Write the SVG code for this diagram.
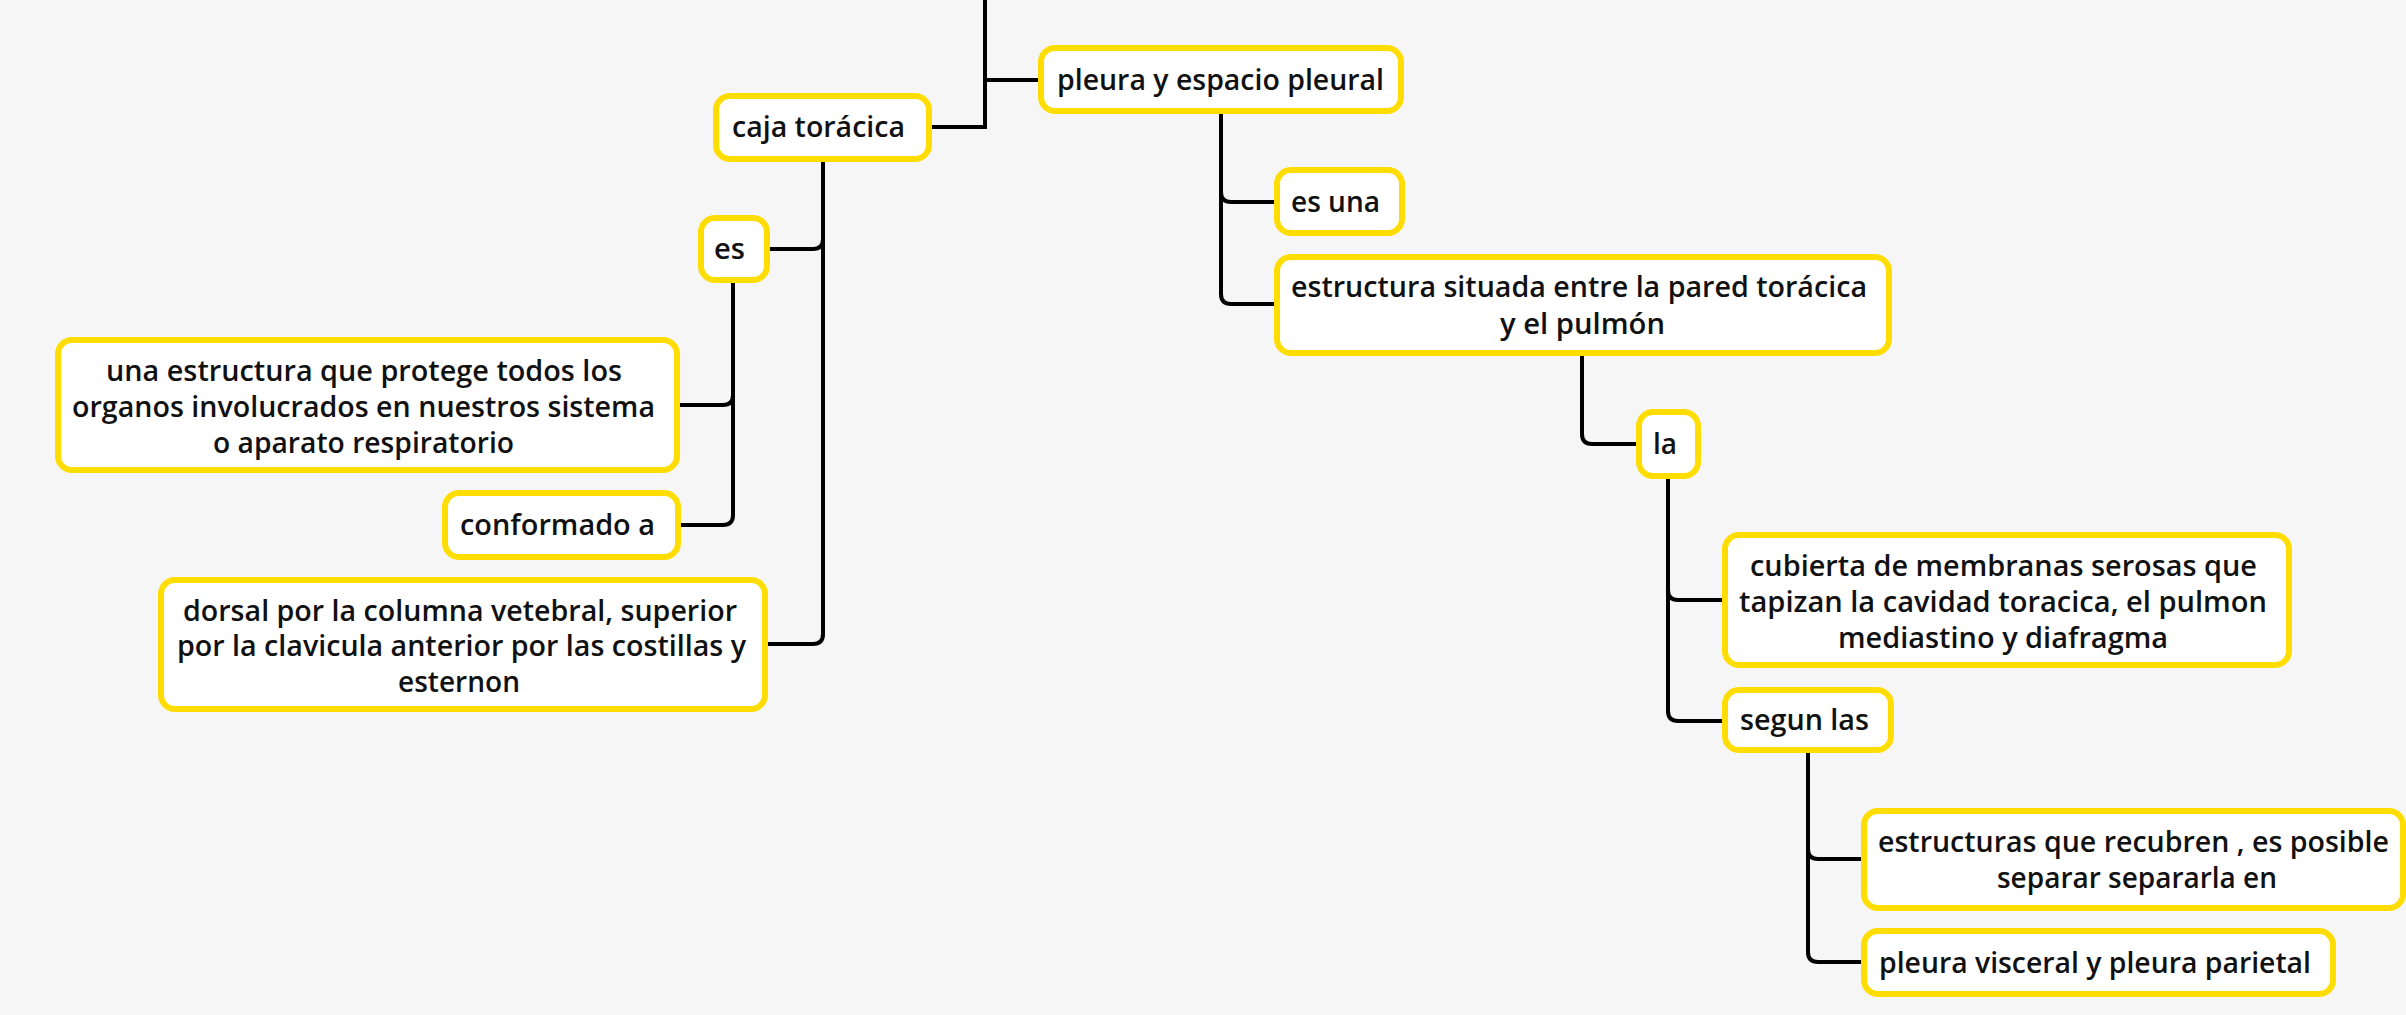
<svg xmlns="http://www.w3.org/2000/svg" width="2406" height="1015" viewBox="0 0 2406 1015">
<style>
.bg{fill:#F6F6F6}
.node rect{fill:#FFFFFF;stroke:#FFDD00;stroke-width:6}
.node text{font-family:"Open Sans","Liberation Sans",sans-serif;font-weight:600;font-size:28px;fill:#111111}
.conn path{fill:none;stroke:#000000;stroke-width:4;stroke-linejoin:miter}
</style>
<rect class="bg" x="0" y="0" width="2406" height="1015"/>
<g id="connectors" class="conn">
<path d="M985,0 V127 H932"/>
<path d="M985,80 H1038"/>
<path d="M823,162 V239 Q823,249 813,249 H770"/>
<path d="M823,162 V634 Q823,644 813,644 H768"/>
<path d="M733,283 V395 Q733,405 723,405 H680"/>
<path d="M733,283 V515 Q733,525 723,525 H681"/>
<path d="M1221,114 V192 Q1221,202 1231,202 H1274"/>
<path d="M1221,114 V294 Q1221,304 1231,304 H1274"/>
<path d="M1582,356 V434 Q1582,444 1592,444 H1636"/>
<path d="M1668,479 V590 Q1668,600 1678,600 H1722"/>
<path d="M1668,479 V711 Q1668,721 1678,721 H1722"/>
<path d="M1808,753 V849 Q1808,859 1818,859 H1861"/>
<path d="M1808,753 V952 Q1808,962 1818,962 H1861"/>
</g>
<g id="caja" class="node"><rect x="716" y="96" width="213" height="63" rx="14"/><text x="732" y="137" textLength="173" lengthAdjust="spacingAndGlyphs">caja torácica</text></g>
<g id="pleura" class="node"><rect x="1041" y="48" width="360" height="63" rx="14"/><text x="1057" y="90" textLength="327" lengthAdjust="spacingAndGlyphs">pleura y espacio pleural</text></g>
<g id="es" class="node"><rect x="701" y="218" width="66" height="62" rx="14"/><text x="714" y="259" textLength="31" lengthAdjust="spacingAndGlyphs">es</text></g>
<g id="una" class="node"><rect x="58" y="340" width="619" height="130" rx="14"/>
<text x="106" y="381" textLength="516" lengthAdjust="spacingAndGlyphs">una estructura que protege todos los</text>
<text x="72" y="417" textLength="583" lengthAdjust="spacingAndGlyphs">organos involucrados en nuestros sistema</text>
<text x="213" y="453" textLength="301" lengthAdjust="spacingAndGlyphs">o aparato respiratorio</text></g>
<g id="conformado" class="node"><rect x="445" y="493" width="233" height="64" rx="14"/><text x="460" y="535" textLength="195" lengthAdjust="spacingAndGlyphs">conformado a</text></g>
<g id="dorsal" class="node"><rect x="161" y="580" width="604" height="129" rx="14"/>
<text x="183" y="621" textLength="554" lengthAdjust="spacingAndGlyphs">dorsal por la columna vetebral, superior</text>
<text x="177" y="656" textLength="569" lengthAdjust="spacingAndGlyphs">por la clavicula anterior por las costillas y</text>
<text x="398" y="692" textLength="122" lengthAdjust="spacingAndGlyphs">esternon</text></g>
<g id="esuna" class="node"><rect x="1277" y="170" width="125" height="63" rx="14"/><text x="1291" y="212" textLength="89" lengthAdjust="spacingAndGlyphs">es una</text></g>
<g id="estructura" class="node"><rect x="1277" y="257" width="612" height="96" rx="14"/>
<text x="1291" y="297" textLength="576" lengthAdjust="spacingAndGlyphs">estructura situada entre la pared torácica</text>
<text x="1500" y="334" textLength="165" lengthAdjust="spacingAndGlyphs">y el pulmón</text></g>
<g id="la" class="node"><rect x="1639" y="412" width="59" height="64" rx="14"/><text x="1653" y="454" textLength="24" lengthAdjust="spacingAndGlyphs">la</text></g>
<g id="cubierta" class="node"><rect x="1725" y="535" width="564" height="130" rx="14"/>
<text x="1750" y="576" textLength="507" lengthAdjust="spacingAndGlyphs">cubierta de membranas serosas que</text>
<text x="1739" y="612" textLength="528" lengthAdjust="spacingAndGlyphs">tapizan la cavidad toracica, el pulmon</text>
<text x="1838" y="648" textLength="330" lengthAdjust="spacingAndGlyphs">mediastino y diafragma</text></g>
<g id="segun" class="node"><rect x="1725" y="690" width="166" height="60" rx="14"/><text x="1740" y="730" textLength="129" lengthAdjust="spacingAndGlyphs">segun las</text></g>
<g id="estructuras" class="node"><rect x="1864" y="811" width="539" height="97" rx="14"/>
<text x="1878" y="852" textLength="511" lengthAdjust="spacingAndGlyphs">estructuras que recubren , es posible</text>
<text x="1997" y="888" textLength="280" lengthAdjust="spacingAndGlyphs">separar separarla en</text></g>
<g id="visceral" class="node"><rect x="1864" y="931" width="469" height="63" rx="14"/><text x="1879" y="973" textLength="432" lengthAdjust="spacingAndGlyphs">pleura visceral y pleura parietal</text></g>
</svg>
